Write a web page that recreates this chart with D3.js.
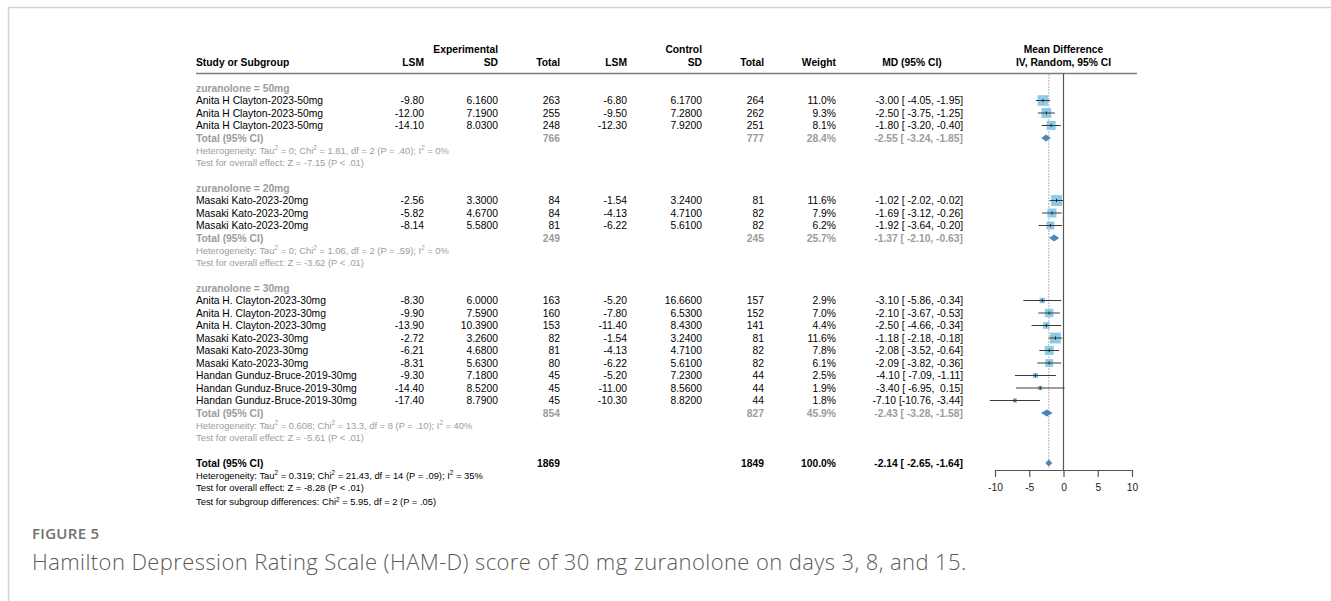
<!DOCTYPE html>
<html>
<head>
<meta charset="utf-8">
<script src="https://cdn.jsdelivr.net/npm/d3@7"></script>
<style>
  html, body { margin: 0; padding: 0; background: #fff; }
  svg { display: block; }
  .tbl text { font-family: "Liberation Sans", Arial, Helvetica, sans-serif; }
  .cap { font-family: "Open Sans", "Noto Sans", sans-serif; }
</style>
</head>
<body>
<svg id="chart" width="1331" height="601"></svg>
<script>
// ---- Study-level data -------------------------------------------------
const groupOf   = [0,0,0, 1,1,1, 2,2,2,2,2,2,2,2,2];
const studies   = [
  "Anita H Clayton-2023-50mg", "Anita H Clayton-2023-50mg", "Anita H Clayton-2023-50mg",
  "Masaki Kato-2023-20mg", "Masaki Kato-2023-20mg", "Masaki Kato-2023-20mg",
  "Anita H. Clayton-2023-30mg", "Anita H. Clayton-2023-30mg", "Anita H. Clayton-2023-30mg",
  "Masaki Kato-2023-30mg", "Masaki Kato-2023-30mg", "Masaki Kato-2023-30mg",
  "Handan Gunduz-Bruce-2019-30mg", "Handan Gunduz-Bruce-2019-30mg", "Handan Gunduz-Bruce-2019-30mg"
];
const expLSM    = [-9.80, -12.00, -14.10, -2.56, -5.82, -8.14, -8.30, -9.90, -13.90, -2.72, -6.21, -8.31, -9.30, -14.40, -17.40];
const expSD     = [6.16, 7.19, 8.03, 3.30, 4.67, 5.58, 6.00, 7.59, 10.39, 3.26, 4.68, 5.63, 7.18, 8.52, 8.79];
const expN      = [263, 255, 248, 84, 84, 81, 163, 160, 153, 82, 81, 80, 45, 45, 45];
const ctlLSM    = [-6.80, -9.50, -12.30, -1.54, -4.13, -6.22, -5.20, -7.80, -11.40, -1.54, -4.13, -6.22, -5.20, -11.00, -10.30];
const ctlSD     = [6.17, 7.28, 7.92, 3.24, 4.71, 5.61, 16.66, 6.53, 8.43, 3.24, 4.71, 5.61, 7.23, 8.56, 8.82];
const ctlN      = [264, 262, 251, 81, 82, 82, 157, 152, 141, 81, 82, 82, 44, 44, 44];
const weightPct = [11.0, 9.3, 8.1, 11.6, 7.9, 6.2, 2.9, 7.0, 4.4, 11.6, 7.8, 6.1, 2.5, 1.9, 1.8];
const mdEst     = [-3.00, -2.50, -1.80, -1.02, -1.69, -1.92, -3.10, -2.10, -2.50, -1.18, -2.08, -2.09, -4.10, -3.40, -7.10];
const mdLo      = [-4.05, -3.75, -3.20, -2.02, -3.12, -3.64, -5.86, -3.67, -4.66, -2.18, -3.52, -3.82, -7.09, -6.95, -10.76];
const mdHi      = [-1.95, -1.25, -0.40, -0.02, -0.26, -0.20, -0.34, -0.53, -0.34, -0.18, -0.64, -0.36, -1.11, 0.15, -3.44];

// ---- Subgroup summaries ----------------------------------------------
const groups      = ["zuranolone = 50mg", "zuranolone = 20mg", "zuranolone = 30mg"];
const groupExpN   = [766, 249, 854];
const groupCtlN   = [777, 245, 827];
const groupWeight = [28.4, 25.7, 45.9];
const groupMD     = [-2.55, -1.37, -2.43];
const groupLo     = [-3.24, -2.10, -3.28];
const groupHi     = [-1.85, -0.63, -1.58];
const groupHet    = [
  "Heterogeneity: Tau^2 = 0; Chi^2 = 1.81, df = 2 (P = .40); I^2 = 0%",
  "Heterogeneity: Tau^2 = 0; Chi^2 = 1.06, df = 2 (P = .59); I^2 = 0%",
  "Heterogeneity: Tau^2 = 0.608; Chi^2 = 13.3, df = 8 (P = .10); I^2 = 40%"
];
const groupTest   = [
  "Test for overall effect: Z = -7.15 (P < .01)",
  "Test for overall effect: Z = -3.62 (P < .01)",
  "Test for overall effect: Z = -5.61 (P < .01)"
];

// ---- Overall pooled result ---------------------------------------------
const totalExpN = 1869, totalCtlN = 1849, totalWeight = 100.0;
const totalMD = -2.14, totalLo = -2.65, totalHi = -1.64;
const totalNotes = [
  "Heterogeneity: Tau^2 = 0.319; Chi^2 = 21.43, df = 14 (P = .09); I^2 = 35%",
  "Test for overall effect: Z = -8.28 (P < .01)",
  "Test for subgroup differences: Chi^2 = 5.95, df = 2 (P = .05)"
];

// ---- Axis ---------------------------------------------------------------
const axisTicks = [-10, -5, 0, 5, 10];

// ---- Layout -------------------------------------------------------------
const FS = 10.3, FS_SMALL = 9.4;
const GREY = "#9c9c9c";
const col = { study: 196, expLSM: 424, expSD: 498, expN: 560, ctlLSM: 627, ctlSD: 702, ctlN: 764, weight: 836, ci: 963, ciHead: 912 };

const svg = d3.select("#chart");
const tbl = svg.append("g").attr("class", "tbl");

// frame around the figure
svg.append("path").attr("d", "M8.5,601V7.5H1331").attr("fill", "none").attr("stroke", "#d2d2d2").attr("stroke-width", 1.5);

// row slots -> vertical position
const slotY = d3.scaleLinear().domain([0, 1]).range([88, 100.5]);
const x = d3.scaleLinear().domain([-10, 10]).range([995, 1132]);
const boxSide = d3.scaleSqrt().domain([0, 1]).range([0, 3.2]);

// plain hyphen-minus, as printed in the table
const fix = d => v => v.toFixed(d);
const fmt2 = fix(2), fmt4 = fix(4), fmt1 = fix(1);
const padL = (s, w) => s.length >= w ? s : " ".repeat(w - s.length) + s;
const ciText = (m, l, h) => `${fmt2(m)} [${padL(fmt2(l), 6)}, ${padL(fmt2(h), 5)}]`;

function txt(g, xx, cy, s, o = {}) {
  const size = o.size || FS;
  const t = g.append("text")
    .attr("x", xx).attr("y", cy + size * 0.36)
    .attr("font-size", size)
    .attr("text-anchor", o.anchor || "start")
    .attr("font-weight", o.bold ? "bold" : "normal")
    .attr("fill", o.color || "#000")
    .style("white-space", "pre");
  // "^2" marks a superscript two
  const parts = s.split(/(\^2)/);
  let raised = false;
  parts.forEach(p => {
    if (p === "") return;
    if (p === "^2") {
      t.append("tspan").attr("dy", -size * 0.38).attr("font-size", size * 0.68).text("2");
      raised = true;
    } else {
      const ts = t.append("tspan").text(p);
      if (raised) { ts.attr("dy", size * 0.38); raised = false; }
    }
  });
  return t;
}

// ---- Column headers -------------------------------------------------------
const h1 = 49, h2 = 62;
txt(tbl, col.expSD, h1, "Experimental", { anchor: "end", bold: true });
txt(tbl, col.ctlSD, h1, "Control", { anchor: "end", bold: true });
txt(tbl, x(0), h1, "Mean Difference", { anchor: "middle", bold: true });
txt(tbl, col.study, h2, "Study or Subgroup", { bold: true });
[["expLSM", "LSM"], ["expSD", "SD"], ["expN", "Total"], ["ctlLSM", "LSM"], ["ctlSD", "SD"], ["ctlN", "Total"], ["weight", "Weight"]]
  .forEach(([k, s]) => txt(tbl, col[k], h2, s, { anchor: "end", bold: true }));
txt(tbl, col.ciHead, h2, "MD (95% CI)", { anchor: "middle", bold: true });
txt(tbl, x(0), h2, "IV, Random, 95% CI", { anchor: "middle", bold: true });

const headLineY = 73.5;
tbl.append("line").attr("x1", col.study).attr("x2", 1137).attr("y1", headLineY).attr("y2", headLineY)
  .attr("stroke", "#7d7d7d").attr("stroke-width", 1.5);

// ---- Reference lines --------------------------------------------------------
const axisY = 470;
const plot = svg.append("g");
plot.append("line").attr("x1", x(totalMD)).attr("x2", x(totalMD)).attr("y1", headLineY + 1).attr("y2", axisY - 2)
  .attr("stroke", "#6a6a6a").attr("stroke-width", 1).attr("stroke-dasharray", "1,2");
plot.append("line").attr("x1", x(0)).attr("x2", x(0)).attr("y1", headLineY).attr("y2", axisY)
  .attr("stroke", "#555").attr("stroke-width", 1.2);

// ---- Rows ----------------------------------------------------------------------
function diamond(cy, m, l, h) {
  const hh = 3.5;
  plot.append("path")
    .attr("d", `M${x(l)},${cy}L${x(m)},${cy - hh}L${x(h)},${cy}L${x(m)},${cy + hh}Z`)
    .attr("fill", "#4a86bb");
}

let slot = 0;
groups.forEach((gname, gi) => {
  txt(tbl, col.study, slotY(slot), gname, { bold: true, color: GREY });
  slot++;
  studies.forEach((s, i) => {
    if (groupOf[i] !== gi) return;
    const cy = slotY(slot);
    txt(tbl, col.study, cy, s);
    txt(tbl, col.expLSM, cy, fmt2(expLSM[i]), { anchor: "end" });
    txt(tbl, col.expSD, cy, fmt4(expSD[i]), { anchor: "end" });
    txt(tbl, col.expN, cy, String(expN[i]), { anchor: "end" });
    txt(tbl, col.ctlLSM, cy, fmt2(ctlLSM[i]), { anchor: "end" });
    txt(tbl, col.ctlSD, cy, fmt4(ctlSD[i]), { anchor: "end" });
    txt(tbl, col.ctlN, cy, String(ctlN[i]), { anchor: "end" });
    txt(tbl, col.weight, cy, fmt1(weightPct[i]) + "%", { anchor: "end" });
    txt(tbl, col.ci, cy, ciText(mdEst[i], mdLo[i], mdHi[i]), { anchor: "end" });

    const side = boxSide(weightPct[i]);
    plot.append("rect")
      .attr("x", x(mdEst[i]) - side / 2).attr("y", cy - side / 2)
      .attr("width", side).attr("height", side)
      .attr("fill", "#8ccbe8");
    plot.append("line").attr("x1", x(mdLo[i])).attr("x2", x(mdHi[i])).attr("y1", cy).attr("y2", cy)
      .attr("stroke", "#3a3a3a").attr("stroke-width", 1);
    plot.append("line").attr("x1", x(mdEst[i])).attr("x2", x(mdEst[i])).attr("y1", cy - 1.6).attr("y2", cy + 1.6)
      .attr("stroke", "#222").attr("stroke-width", 1);
    slot++;
  });
  const cy = slotY(slot);
  txt(tbl, col.study, cy, "Total (95% CI)", { bold: true, color: GREY });
  txt(tbl, col.expN, cy, String(groupExpN[gi]), { anchor: "end", bold: true, color: GREY });
  txt(tbl, col.ctlN, cy, String(groupCtlN[gi]), { anchor: "end", bold: true, color: GREY });
  txt(tbl, col.weight, cy, fmt1(groupWeight[gi]) + "%", { anchor: "end", bold: true, color: GREY });
  txt(tbl, col.ci, cy, ciText(groupMD[gi], groupLo[gi], groupHi[gi]), { anchor: "end", bold: true, color: GREY });
  diamond(cy, groupMD[gi], groupLo[gi], groupHi[gi]);
  slot++;
  txt(tbl, col.study, slotY(slot), groupHet[gi], { size: FS_SMALL, color: GREY });
  slot++;
  txt(tbl, col.study, slotY(slot), groupTest[gi], { size: FS_SMALL, color: GREY });
  slot += 2;
});

// overall
{
  const cy = slotY(slot);
  txt(tbl, col.study, cy, "Total (95% CI)", { bold: true });
  txt(tbl, col.expN, cy, String(totalExpN), { anchor: "end", bold: true });
  txt(tbl, col.ctlN, cy, String(totalCtlN), { anchor: "end", bold: true });
  txt(tbl, col.weight, cy, fmt1(totalWeight) + "%", { anchor: "end", bold: true });
  txt(tbl, col.ci, cy, ciText(totalMD, totalLo, totalHi), { anchor: "end", bold: true });
  diamond(cy, totalMD, totalLo, totalHi);
  slot++;
  totalNotes.forEach((n, k) => {
    txt(tbl, col.study, slotY(slot) + (k === 2 ? 1.5 : 0), n, { size: FS_SMALL });
    slot++;
  });
}

// ---- Axis ---------------------------------------------------------------------
const ax = svg.append("g").attr("class", "tbl").attr("transform", `translate(0,${axisY})`)
  .call(d3.axisBottom(x).tickValues(axisTicks).tickFormat(d => String(d))
    .tickSize(7).tickSizeOuter(0).tickPadding(7));
ax.select(".domain").attr("stroke", "#555").attr("stroke-width", 1.2);
ax.selectAll(".tick line").attr("stroke", "#555").attr("stroke-width", 1.2);
ax.selectAll(".tick text").attr("font-size", FS).attr("fill", "#222")
  .attr("font-family", "'Liberation Sans', Arial, sans-serif");

// ---- Caption ------------------------------------------------------------------------
svg.append("text").attr("class", "cap").attr("x", 32).attr("y", 539)
  .attr("font-size", 15).attr("font-weight", 600).attr("fill", "#707070")
  .style("letter-spacing", "0.3px").text("FIGURE 5");
svg.append("text").attr("class", "cap").attr("x", 32).attr("y", 570)
  .attr("font-size", 22).attr("font-weight", 300).attr("fill", "#5a5a5a")
  .style("letter-spacing", "0.4px")
  .text("Hamilton Depression Rating Scale (HAM-D) score of 30 mg zuranolone on days 3, 8, and 15.");
</script>
</body>
</html>
